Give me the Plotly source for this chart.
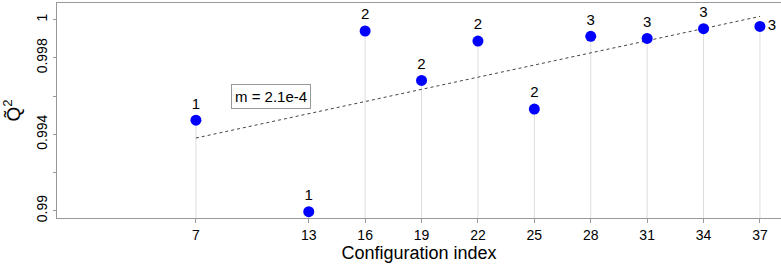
import numpy as np
import plotly.graph_objects as go

config_index = [7, 13, 16, 19, 22, 25, 28, 31, 34, 37]
q2_values = [0.99474, 0.98995, 0.99941, 0.99682, 0.99888, 0.99532, 0.99913, 0.99902, 0.99953, 0.99965]
point_labels = ["1", "1", "2", "2", "2", "2", "3", "3", "3", "3"]
y_tick_vals = [0.99, 0.994, 0.998, 1.0]
y_tick_text = ["0.99", "0.994", "0.998", "1"]

Y_MIN, Y_MAX = 0.989617, 1.000876
X_MIN, X_MAX = -0.39, 38.12
FONT = "Liberation Sans, Arial, sans-serif"

slope, intercept = np.polyfit(config_index, q2_values, 1)
fit_x = [config_index[0], config_index[-1]]
fit_y = [slope * v + intercept for v in fit_x]

drop_x, drop_y = [], []
for xv, yv in zip(config_index, q2_values):
    drop_x += [xv, xv, None]
    drop_y += [yv, Y_MIN, None]

fig = go.Figure()
fig.add_trace(go.Scatter(x=drop_x, y=drop_y, mode="lines",
                         line=dict(color="#dddddd", width=1), hoverinfo="skip", showlegend=False))
fig.add_trace(go.Scatter(x=fit_x, y=fit_y, mode="lines",
                         line=dict(color="#444444", width=1, dash="3px,3px"), showlegend=False))
positions = ["top center"] * (len(config_index) - 1) + ["middle right"]
fig.add_trace(go.Scatter(x=config_index, y=q2_values, mode="markers+text",
                         text=point_labels, textposition=positions,
                         textfont=dict(size=15, color="black", family=FONT),
                         marker=dict(color="#0000ff", size=11, line=dict(width=0)),
                         showlegend=False, cliponaxis=False))

fig.add_annotation(x=11, y=0.99596, text="m = 2.1e-4", showarrow=False,
                   font=dict(size=15, color="black", family=FONT),
                   bordercolor="#999999", borderwidth=1, borderpad=3, bgcolor="white")

fig.update_layout(
    width=781, height=267,
    margin=dict(l=57, r=0, t=3, b=49),
    paper_bgcolor="white", plot_bgcolor="white",
    font=dict(family=FONT, color="black"),
)
fig.update_xaxes(range=[X_MIN, X_MAX], tickvals=config_index, ticktext=[str(v) for v in config_index],
                 showgrid=False, zeroline=False, showline=True, linecolor="#999999", linewidth=1,
                 mirror=True, ticks="outside", ticklen=4, tickcolor="#999999",
                 tickfont=dict(size=14), title=dict(text="Configuration index", font=dict(size=18), standoff=2))
fig.update_yaxes(range=[Y_MIN, Y_MAX], tickvals=y_tick_vals, ticktext=y_tick_text,
                 minor=dict(tick0=0.99, dtick=0.002, ticks="outside", ticklen=3, tickcolor="#999999"),
                 showgrid=False, zeroline=False, showline=True, linecolor="#999999", linewidth=1,
                 ticks="outside", ticklen=3, tickcolor="#999999", tickangle=-90,
                 tickfont=dict(size=14), title=dict(text="Q̃<sup>2</sup>", font=dict(size=19), standoff=10))

fig.write_html("out.html", config={"displayModeBar": False},
               post_script="document.body.style.margin='0';")
